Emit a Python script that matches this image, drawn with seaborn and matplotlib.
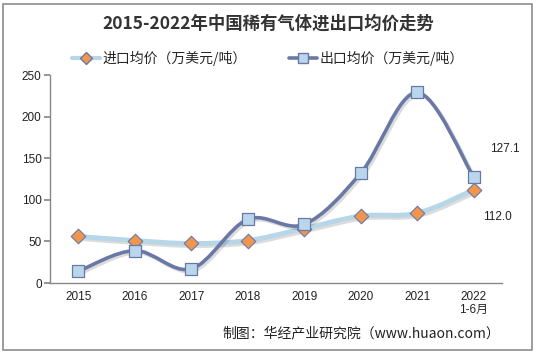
import numpy as np
import pandas as pd
import matplotlib
matplotlib.use("Agg")
import matplotlib.pyplot as plt
import matplotlib.patheffects as pe
from matplotlib.path import Path
from matplotlib.patches import PathPatch, Rectangle
from matplotlib.lines import Line2D
import seaborn as sns

# data
years = ["2015", "2016", "2017", "2018", "2019", "2020", "2021", "2022\n1-6月"]
import_price = [56.0, 51.0, 47.5, 51.0, 65.5, 80.5, 84.0, 112.0]
export_price = [14.0, 39.0, 17.0, 76.5, 70.5, 132.0, 229.0, 127.1]
yticks = [0, 50, 100, 150, 200, 250]


def smooth_path(xs, ys):
    # Excel-like smoothing: Catmull-Rom as cubic Bezier segments
    pts = np.column_stack([xs, ys]).astype(float)
    verts = [pts[0]]
    codes = [Path.MOVETO]
    n = len(pts)
    for i in range(n - 1):
        p0 = pts[max(i - 1, 0)]
        p1 = pts[i]
        p2 = pts[i + 1]
        p3 = pts[min(i + 2, n - 1)]
        c1 = p1 + (p2 - p0) / 6.0
        c2 = p2 - (p3 - p1) / 6.0
        verts += [c1, c2, p2]
        codes += [Path.CURVE4] * 3
    return Path(verts, codes)


sns.set_theme(style="white")
plt.rcParams['font.family'] = ['Noto Sans CJK SC', 'DejaVu Sans']

df = pd.DataFrame({"x": np.arange(len(years)), "import": import_price, "export": export_price})

fig = plt.figure(figsize=(5.36, 3.53), dpi=100)
ax = fig.add_axes([50 / 536, 70 / 353, 452 / 536, 208 / 353])

shadow = [pe.SimpleLineShadow(offset=(1.5, -1.5), alpha=0.15), pe.Normal()]

imp_color = "#b7d6e8"
exp_color = "#6a78a6"

ax.add_patch(PathPatch(smooth_path(df["x"], df["import"]), fill=False,
                       edgecolor=imp_color, lw=3.5, path_effects=shadow, zorder=2))
ax.add_patch(PathPatch(smooth_path(df["x"], df["export"]), fill=False,
                       edgecolor=exp_color, lw=2.6, path_effects=shadow, zorder=3))

sns.scatterplot(data=df, x="x", y="import", marker="D", s=55, color="#f0964c",
                edgecolor="#6a78a6", linewidth=0.8, ax=ax, zorder=4)
sns.scatterplot(data=df, x="x", y="export", marker="s", s=70, color="#b9d6ec",
                edgecolor="#6a78a6", linewidth=0.9, ax=ax, zorder=5)

ax.set_xlim(-0.5, len(years) - 0.5)
ax.set_ylim(0, 250)
ax.set_yticks(yticks)
ax.set_xticks(df["x"])
ax.set_xticklabels(years, fontsize=8.5, color="#222222", linespacing=1.1,
                   family=['Liberation Sans', 'Noto Sans CJK SC'])
ax.set_yticklabels([str(v) for v in yticks], fontsize=8.5, color="#222222",
                   family=['Liberation Sans'])
ax.set_xticks(np.arange(-0.5, len(years)), minor=True)
ax.tick_params(axis="x", which="major", length=0, pad=6)
ax.tick_params(axis="x", which="minor", length=4, color="#888888", direction="out")
ax.tick_params(axis="y", length=4, color="#888888", direction="out", left=True, pad=2)
ax.set_xlabel("")
ax.set_ylabel("")
for side in ["top", "right"]:
    ax.spines[side].set_visible(False)
for side in ["left", "bottom"]:
    ax.spines[side].set_color("#888888")
    ax.spines[side].set_linewidth(1.0)

# data labels for last point
ax.annotate(f"{export_price[-1]:.1f}", (df["x"].iloc[-1], export_price[-1]),
            xytext=(12, 18), textcoords="offset points", fontsize=8.5,
            color="#222222", family=['Liberation Sans'])
ax.annotate(f"{import_price[-1]:.1f}", (df["x"].iloc[-1], import_price[-1]),
            xytext=(7, -22), textcoords="offset points", fontsize=8.5,
            color="#222222", family=['Liberation Sans'])

# title
fig.text(0.5, 1 - 24 / 353, "2015-2022年中国稀有气体进出口均价走势", ha="center", va="center",
         fontsize=12.5, fontweight="bold", color="#333333")

# legend
handles = [
    Line2D([], [], color=imp_color, lw=3, marker="D", markersize=6,
           markerfacecolor="#f0964c", markeredgecolor="#6a78a6"),
    Line2D([], [], color=exp_color, lw=2.6, marker="s", markersize=7,
           markerfacecolor="#b9d6ec", markeredgecolor="#6a78a6"),
]
fig.legend(handles, ["进口均价（万美元/吨）", "出口均价（万美元/吨）"], loc="center",
           bbox_to_anchor=(0.5, 1 - 58 / 353), ncol=2, frameon=False, fontsize=10,
           handlelength=2.0, handletextpad=0.2, columnspacing=3.0)

# source
fig.text(500 / 536, 1 - 333 / 353, "制图：华经产业研究院（www.huaon.com）", ha="right", va="center",
         fontsize=10, color="#222222")

# outer border
fig.patches.append(Rectangle((3 / 536, 3 / 353), 529 / 536, 346 / 353, transform=fig.transFigure,
                             fill=False, edgecolor="#8c8c8c", lw=1.2))

fig.savefig("out.png", dpi=100)
